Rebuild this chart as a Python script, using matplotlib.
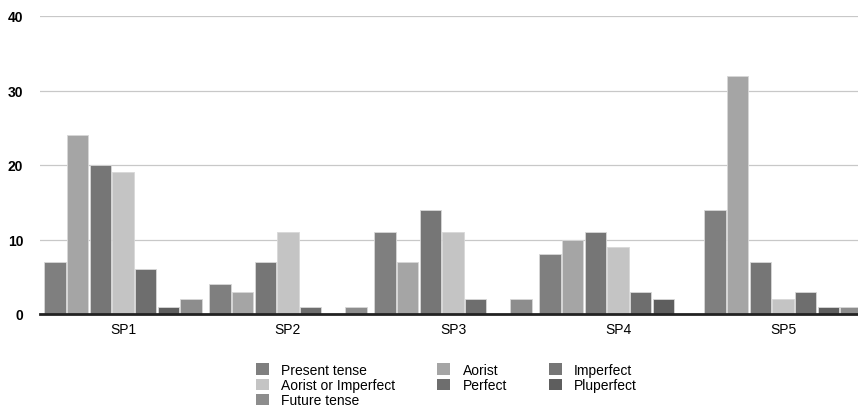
import matplotlib
matplotlib.use("Agg")
import matplotlib.pyplot as plt
import numpy as np

plt.rcParams['font.family'] = ['Liberation Sans', 'DejaVu Sans']

groups = ["SP1", "SP2", "SP3", "SP4", "SP5"]
series_names = ["Present tense", "Aorist", "Imperfect", "Aorist or Imperfect",
                "Perfect", "Pluperfect", "Future tense"]
present = [7, 4, 11, 8, 14]
aorist = [24, 3, 7, 10, 32]
imperfect = [20, 7, 14, 11, 7]
aor_or_imp = [19, 11, 11, 9, 2]
perfect = [6, 1, 2, 3, 3]
pluperfect = [1, 0, 0, 2, 1]
future = [2, 1, 2, 0, 1]
series = [present, aorist, imperfect, aor_or_imp, perfect, pluperfect, future]
colors = ["#7f7f7f", "#a5a5a5", "#767676", "#c4c4c4", "#6e6e6e", "#5e5e5e", "#8d8d8d"]
yticks = [0, 10, 20, 30, 40]

W, H = 858, 410
fig = plt.figure(figsize=(W / 100, H / 100), dpi=100)
ax = fig.add_axes([40 / W, 1 - 315 / H, 818 / W, (315 - 17) / H])

x = np.arange(len(groups))
stride = 22.7 / 165
bw = 21.5 / 165
handles = []
for j, (vals, c, name) in enumerate(zip(series, colors, series_names)):
    b = ax.bar(x + (j - 3) * stride, vals, width=bw, color=c, edgecolor="#d8d8d8",
               linewidth=0.6, label=name, zorder=3)
    handles.append(b)

ax.set_xlim((40 - 123) / 165, (858 - 123) / 165)
ax.set_ylim(0, 40)
ax.set_yticks(yticks)
ax.set_yticklabels([str(t) for t in yticks], fontsize=10, fontweight="bold")
ax.set_xticks(x)
ax.set_xticklabels(groups, fontsize=10)
ax.tick_params(axis="both", length=0)
ax.tick_params(axis="y", pad=12)
ax.tick_params(axis="x", pad=6)
ax.yaxis.grid(True, color="#c8c8c8", linewidth=0.9, zorder=0)
for s in ["top", "right", "left"]:
    ax.spines[s].set_visible(False)
ax.spines["bottom"].set_color("#222222")
ax.spines["bottom"].set_linewidth(2)
ax.spines["bottom"].set_zorder(5)

order = [0, 3, 6, 1, 4, 2, 5]
leg = fig.legend([handles[i] for i in order], [series_names[i] for i in order],
                 ncol=3, loc="upper left", bbox_to_anchor=(256 / W, 1 - 364 / H),
                 frameon=False, fontsize=10, handlelength=0.9, handleheight=0.9,
                 handletextpad=0.9, columnspacing=3.05, labelspacing=0.08,
                 borderpad=0, borderaxespad=0)
for h in leg.legend_handles:
    h.set_edgecolor("none")

fig.savefig("out.png", dpi=100, facecolor="white")
